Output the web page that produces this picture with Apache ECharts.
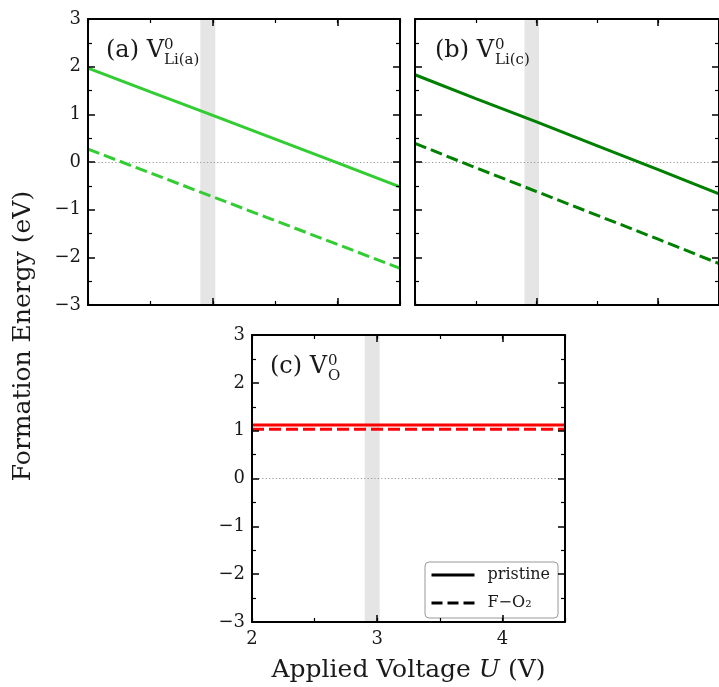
<!DOCTYPE html>
<html>
<head>
<meta charset="utf-8">
<script src="https://cdn.jsdelivr.net/npm/echarts@6/dist/echarts.min.js"></script>
<style>
  html, body { margin: 0; padding: 0; background: #fff; }
  #chart { width: 719px; height: 687px; }
</style>
</head>
<body>
<div id="chart"></div>
<script>
// Applied voltage U (V) at which formation energies are sampled
const voltage = [2.0, 2.5, 3.0, 3.5, 4.0, 4.5];

// (a) Li(a) vacancy formation energy (eV)
const liA_pristine = [1.97, 1.47, 0.98, 0.48, -0.02, -0.52];
const liA_fo2      = [0.27, -0.23, -0.73, -1.23, -1.73, -2.23];

// (b) Li(c) vacancy formation energy (eV)
const liC_pristine = [1.83, 1.33, 0.84, 0.34, -0.16, -0.67];
const liC_fo2      = [0.39, -0.12, -0.62, -1.12, -1.62, -2.13];

// (c) O vacancy formation energy (eV)
const vO_pristine  = [1.12, 1.12, 1.12, 1.12, 1.12, 1.12];
const vO_fo2       = [1.03, 1.03, 1.03, 1.03, 1.03, 1.03];

// Shaded operating-voltage window (V)
const voltageWindow = [2.9, 3.02];

const legendNames = ['pristine', 'F\u2212O\u2082'];

const FONT = '"DejaVu Serif", serif';
const INK = '#1a1a1a';

const pairs = ys => voltage.map((u, i) => [u, ys[i]]);
const fmt = v => Number.isInteger(v) ? String(v).replace('-', '\u2212') : '';

const grids = [
  { left: 88,  top: 19,  width: 312, height: 286 },
  { left: 415, top: 19,  width: 312, height: 286 },
  { left: 252, top: 335, width: 313, height: 287 }
];

const xAxes = [];
const yAxes = [];

function xPair(g, pos, showLabels, extra) {
  // major ticks every 1 V
  xAxes.push(Object.assign({
    type: 'value', gridIndex: g, position: pos, min: 2, max: 4.5, interval: 1,
    axisLine: { show: true, onZero: false, lineStyle: { color: '#000', width: 2 } },
    axisTick: { show: true, inside: true, length: 7, lineStyle: { color: '#000', width: 1.5 } },
    minorTick: { show: false },
    axisLabel: { show: showLabels, margin: 8, color: INK, fontFamily: FONT, fontSize: 18, formatter: fmt },
    splitLine: { show: false }, z: 10
  }, extra || {}));
  // minor ticks every 0.5 V
  xAxes.push({
    type: 'value', gridIndex: g, position: pos, min: 2, max: 4.5, interval: 0.5,
    axisLine: { show: false, onZero: false },
    axisTick: { show: true, inside: true, length: 4, lineStyle: { color: '#000', width: 1.2 } },
    axisLabel: { show: false }, splitLine: { show: false }, z: 10
  });
}

function yAxis(g, pos, showLabels) {
  yAxes.push({
    type: 'value', gridIndex: g, position: pos, min: -3, max: 3, interval: 1,
    axisLine: { show: true, onZero: false, lineStyle: { color: '#000', width: 2 } },
    axisTick: { show: true, inside: true, length: 7, lineStyle: { color: '#000', width: 1.5 } },
    minorTick: { show: true, splitNumber: 2, length: 4, lineStyle: { color: '#000', width: 1.2 } },
    axisLabel: { show: showLabels, margin: 7, color: INK, fontFamily: FONT, fontSize: 18, formatter: fmt },
    splitLine: { show: false }, minorSplitLine: { show: false }, z: 10
  });
}

for (let g = 0; g < 3; g++) {
  const extra = g === 2 ? {
    name: 'Applied Voltage {i|U} (V)', nameLocation: 'middle', nameGap: 36,
    nameTextStyle: {
      fontFamily: FONT, fontSize: 25, color: INK,
      rich: { i: { fontFamily: FONT, fontSize: 25, fontStyle: 'italic', color: INK } }
    }
  } : null;
  xPair(g, 'bottom', g === 2, extra);   // indices 4g, 4g+1
  xPair(g, 'top', false);               // indices 4g+2, 4g+3
  yAxis(g, 'left', g !== 1);            // index 2g
  yAxis(g, 'right', false);             // index 2g+1
}

const panels = [
  { grid: 0, color: '#32cd32', solid: liA_pristine, dashed: liA_fo2, tag: 'Li(a)' },
  { grid: 1, color: '#008000', solid: liC_pristine, dashed: liC_fo2, tag: 'Li(c)' },
  { grid: 2, color: '#ff0000', solid: vO_pristine,  dashed: vO_fo2,  tag: 'O' }
];

const DASH = [12, 5];
const series = [];
panels.forEach(p => {
  const ax = { xAxisIndex: 4 * p.grid, yAxisIndex: 2 * p.grid };
  series.push(Object.assign({
    name: p.tag + ' F-O2', type: 'line', data: pairs(p.dashed), symbol: 'none', z: 3,
    lineStyle: { color: p.color, width: 3, type: DASH },
    markArea: {
      silent: true, z: 1,
      itemStyle: { color: '#e5e5e5' },
      data: [[{ xAxis: voltageWindow[0] }, { xAxis: voltageWindow[1] }]]
    },
    markLine: {
      silent: true, z: 2, symbol: 'none', label: { show: false },
      lineStyle: { color: '#999', width: 1, type: [1.2, 2.2] },
      data: [{ yAxis: 0 }]
    }
  }, ax));
  series.push(Object.assign({
    name: p.tag + ' pristine', type: 'line', data: pairs(p.solid), symbol: 'none', z: 4,
    lineStyle: { color: p.color, width: 3, type: 'solid' }
  }, ax));
});

// legend keys (black line styles)
series.push({
  name: legendNames[0], type: 'line', data: [], symbol: 'none', xAxisIndex: 8, yAxisIndex: 4,
  lineStyle: { color: '#000', width: 3, type: 'solid' }, itemStyle: { color: '#000' }
});
series.push({
  name: legendNames[1], type: 'line', data: [], symbol: 'none', xAxisIndex: 8, yAxisIndex: 4,
  lineStyle: { color: '#000', width: 3, type: [11, 5] }, itemStyle: { color: '#000' }
});

function panelLabel(x, y, letter, sub) {
  return [
    { type: 'text', x: x, y: y, z: 20,
      style: { text: '(' + letter + ') V', font: '24px ' + FONT, fill: INK, verticalAlign: 'middle' } },
    { type: 'text', x: x + (letter === 'b' ? 60 : 58), y: y - 6, z: 20,
      style: { text: '0', font: '15px ' + FONT, fill: INK, verticalAlign: 'middle' } },
    { type: 'text', x: x + (letter === 'b' ? 60 : 58), y: y + 9, z: 20,
      style: { text: sub, font: '15px ' + FONT, fill: INK, verticalAlign: 'middle' } }
  ];
}

const graphic = [].concat(
  panelLabel(106, 51, 'a', 'Li(a)'),
  panelLabel(435, 51, 'b', 'Li(c)'),
  panelLabel(270, 367, 'c', 'O'),
  [{
    type: 'text', x: 23, y: 336, rotation: Math.PI / 2, z: 20,
    style: { text: 'Formation Energy (eV)', font: '25px ' + FONT, fill: INK, align: 'center', verticalAlign: 'middle' }
  }]
);

const chart = echarts.init(document.getElementById('chart'), null, { renderer: 'canvas' });
chart.setOption({
  animation: false,
  backgroundColor: '#fff',
  grid: grids,
  xAxis: xAxes,
  yAxis: yAxes,
  series: series,
  legend: {
    data: legendNames, selectedMode: false, orient: 'vertical',
    left: 425, top: 562, padding: [5, 8, 7, 5],
    itemWidth: 43, itemHeight: 14, itemGap: 12,
    itemStyle: { opacity: 0 },
    lineStyle: { width: 3 },
    backgroundColor: '#fff', borderColor: '#999', borderWidth: 1, borderRadius: 4,
    textStyle: { fontFamily: FONT, fontSize: 16, color: INK, padding: [0, 0, 0, 8] }
  },
  graphic: graphic
});
</script>
</body>
</html>
